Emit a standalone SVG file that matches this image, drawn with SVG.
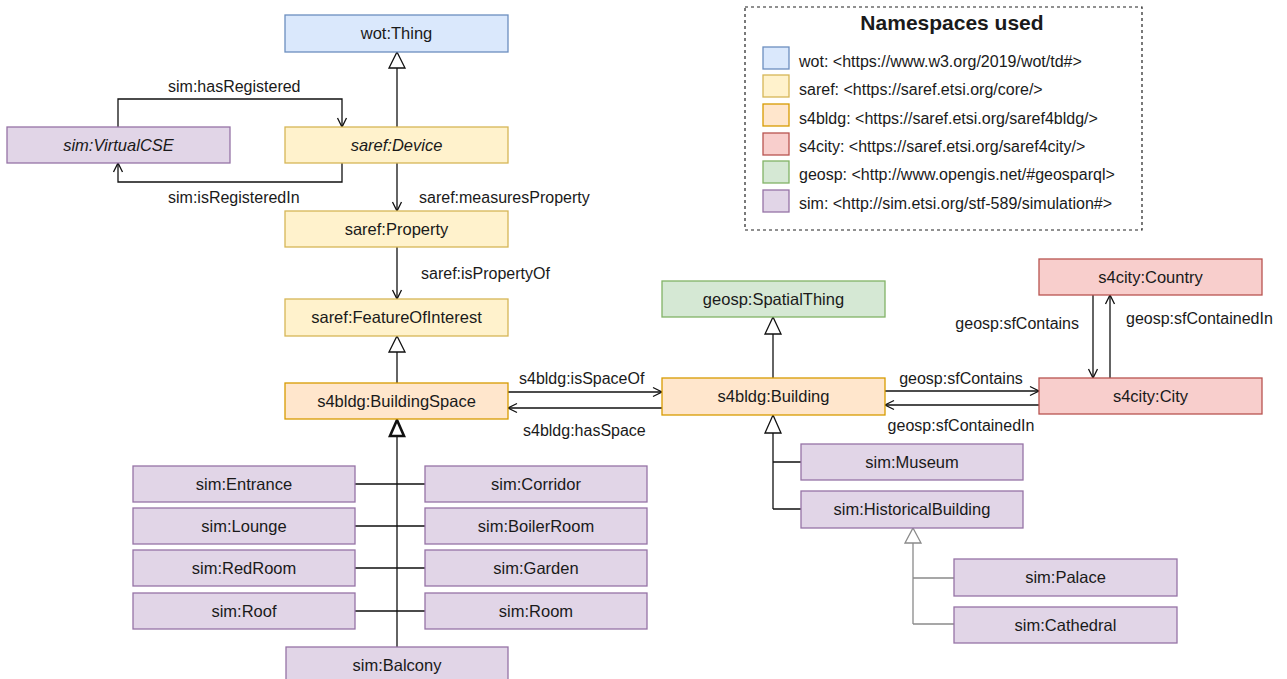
<svg xmlns="http://www.w3.org/2000/svg" width="1287" height="679" viewBox="0 0 1287 679">
<style>
text{font-family:"Liberation Sans",Arial,Helvetica,sans-serif;fill:#1a1a1a}
.lbl{font-size:16.5px;text-anchor:middle}
.it{font-style:italic}
.el{font-size:16px}
.lg{font-size:16px}
.n rect{stroke-width:1.3}
.blue{fill:#dae8fc;stroke:#6c8ebf}
.yel{fill:#fff2cc;stroke:#d6b656}
.org{fill:#ffe6cc;stroke:#d79b00}
.red{fill:#f8cecc;stroke:#b85450}
.grn{fill:#d5e8d4;stroke:#82b366}
.pur{fill:#e1d5e7;stroke:#9673a6}
.c{fill:none;stroke:#111;stroke-width:1.3}
.g{fill:none;stroke:#8a8a8a;stroke-width:1.3}
.tri{fill:#fff;stroke:#111;stroke-width:1.3}
.trib{fill:#fff;stroke:#111;stroke-width:2.6}
.trig{fill:#fff;stroke:#8a8a8a;stroke-width:1.3}
</style>
<defs>
<marker id="open" markerWidth="12" markerHeight="12" refX="10" refY="6" orient="auto" markerUnits="userSpaceOnUse" overflow="visible">
<path d="M1,1.5 L10,6 L1,10.5" fill="none" stroke="#111" stroke-width="1.3"/>
</marker>
</defs>
<rect width="1287" height="679" fill="#fff"/>

<g id="connectors">
<!-- Device -> wot:Thing -->
<path class="c" d="M397,127 V68"/>
<path class="tri" d="M397,52 L405,68 L389,68 Z"/>
<!-- hasRegistered -->
<path class="c" d="M118,127 V99 H342 V127" marker-end="url(#open)"/>
<text class="el" x="168" y="92">sim:hasRegistered</text>
<!-- isRegisteredIn -->
<path class="c" d="M342,163 V182 H118 V163" marker-end="url(#open)"/>
<text class="el" x="168" y="203">sim:isRegisteredIn</text>
<!-- measuresProperty -->
<path class="c" d="M397,163 V211" marker-end="url(#open)"/>
<text class="el" x="419" y="203">saref:measuresProperty</text>
<!-- isPropertyOf -->
<path class="c" d="M397,247 V299" marker-end="url(#open)"/>
<text class="el" x="421" y="279">saref:isPropertyOf</text>
<!-- BuildingSpace -> FOI -->
<path class="c" d="M397,383 V352"/>
<path class="tri" d="M397,336 L405,352 L389,352 Z"/>
<!-- isSpaceOf / hasSpace -->
<path class="c" d="M508,392 H662" marker-end="url(#open)"/>
<text class="el" x="519" y="384">s4bldg:isSpaceOf</text>
<path class="c" d="M662,408 H508" marker-end="url(#open)"/>
<text class="el" x="523" y="436">s4bldg:hasSpace</text>
<!-- Building -> SpatialThing -->
<path class="c" d="M773,378 V334"/>
<path class="tri" d="M773,317 L781,334 L765,334 Z"/>
<!-- Building <-> City -->
<path class="c" d="M885,391 H1039" marker-end="url(#open)"/>
<text class="el" x="961" y="384" text-anchor="middle">geosp:sfContains</text>
<path class="c" d="M1039,405 H885" marker-end="url(#open)"/>
<text class="el" x="961" y="431" text-anchor="middle">geosp:sfContainedIn</text>
<!-- Country <-> City -->
<path class="c" d="M1093,295 V378" marker-end="url(#open)"/>
<text class="el" x="1079" y="329" text-anchor="end">geosp:sfContains</text>
<path class="c" d="M1110,378 V295" marker-end="url(#open)"/>
<text class="el" x="1126" y="324">geosp:sfContainedIn</text>
<!-- Building subclasses -->
<path class="c" d="M773,433 V509 M773,462 H801 M773,509 H801"/>
<path class="tri" d="M773,415 L781,433 L765,433 Z"/>
<!-- HistoricalBuilding subclasses -->
<path class="g" d="M913,543 V624 M913,578 H954 M913,624 H954"/>
<path class="trig" d="M913,528 L921,543 L905,543 Z"/>
<!-- BuildingSpace subclasses -->
<path class="c" d="M397,437 V647 M355,484 H425 M355,526 H425 M355,568 H425 M355,611 H425"/>
<path class="trib" d="M397,420 L404,436 L390,436 Z"/>
</g>

<g id="wotThing" class="n"><rect class="blue" x="285" y="15" width="223" height="37"/><text class="lbl" x="396.5" y="39">wot:Thing</text></g>
<g id="virtualCSE" class="n"><rect class="pur" x="7" y="127" width="223" height="36"/><text class="lbl it" x="118.5" y="151">sim:VirtualCSE</text></g>
<g id="device" class="n"><rect class="yel" x="285" y="127" width="223" height="36"/><text class="lbl it" x="396.5" y="151">saref:Device</text></g>
<g id="property" class="n"><rect class="yel" x="285" y="211" width="223" height="36"/><text class="lbl" x="396.5" y="235">saref:Property</text></g>
<g id="featureOfInterest" class="n"><rect class="yel" x="285" y="299" width="223" height="37"/><text class="lbl" x="396.5" y="323">saref:FeatureOfInterest</text></g>
<g id="buildingSpace" class="n"><rect class="org" x="285" y="383" width="223" height="36"/><text class="lbl" x="396.5" y="407">s4bldg:BuildingSpace</text></g>
<g id="spatialThing" class="n"><rect class="grn" x="662" y="281" width="223" height="36"/><text class="lbl" x="773.5" y="305">geosp:SpatialThing</text></g>
<g id="building" class="n"><rect class="org" x="662" y="378" width="223" height="37"/><text class="lbl" x="773.5" y="402">s4bldg:Building</text></g>
<g id="country" class="n"><rect class="red" x="1039" y="259" width="223" height="36"/><text class="lbl" x="1150.5" y="283">s4city:Country</text></g>
<g id="city" class="n"><rect class="red" x="1039" y="378" width="223" height="36"/><text class="lbl" x="1150.5" y="402">s4city:City</text></g>

<g id="entrance" class="n"><rect class="pur" x="133" y="466" width="222" height="36"/><text class="lbl" x="244" y="490">sim:Entrance</text></g>
<g id="lounge" class="n"><rect class="pur" x="133" y="508" width="222" height="36"/><text class="lbl" x="244" y="532">sim:Lounge</text></g>
<g id="redRoom" class="n"><rect class="pur" x="133" y="550" width="222" height="36"/><text class="lbl" x="244" y="574">sim:RedRoom</text></g>
<g id="roof" class="n"><rect class="pur" x="133" y="593" width="222" height="36"/><text class="lbl" x="244" y="617">sim:Roof</text></g>
<g id="corridor" class="n"><rect class="pur" x="425" y="466" width="222" height="36"/><text class="lbl" x="536" y="490">sim:Corridor</text></g>
<g id="boilerRoom" class="n"><rect class="pur" x="425" y="508" width="222" height="36"/><text class="lbl" x="536" y="532">sim:BoilerRoom</text></g>
<g id="garden" class="n"><rect class="pur" x="425" y="550" width="222" height="36"/><text class="lbl" x="536" y="574">sim:Garden</text></g>
<g id="room" class="n"><rect class="pur" x="425" y="593" width="222" height="36"/><text class="lbl" x="536" y="617">sim:Room</text></g>
<g id="balcony" class="n"><rect class="pur" x="286" y="647" width="222" height="37"/><text class="lbl" x="397" y="671">sim:Balcony</text></g>

<g id="museum" class="n"><rect class="pur" x="801" y="444" width="222" height="36"/><text class="lbl" x="912" y="468">sim:Museum</text></g>
<g id="historicalBuilding" class="n"><rect class="pur" x="801" y="491" width="222" height="37"/><text class="lbl" x="912" y="515">sim:HistoricalBuilding</text></g>
<g id="palace" class="n"><rect class="pur" x="954" y="559" width="223" height="37"/><text class="lbl" x="1065.5" y="583">sim:Palace</text></g>
<g id="cathedral" class="n"><rect class="pur" x="954" y="607" width="223" height="36"/><text class="lbl" x="1065.5" y="631">sim:Cathedral</text></g>

<g id="legend">
<rect x="745" y="7" width="397" height="223" fill="#fff" stroke="#222" stroke-width="1.2" stroke-dasharray="3,3"/>
<text x="952" y="30" text-anchor="middle" style="font-size:21px;font-weight:bold">Namespaces used</text>
<rect class="blue" x="763" y="47" width="26" height="22" stroke-width="1.3"/>
<text class="lg" x="799" y="67">wot: &lt;https://www.w3.org/2019/wot/td#&gt;</text>
<rect class="yel" x="763" y="75" width="26" height="22" stroke-width="1.3"/>
<text class="lg" x="799" y="95">saref: &lt;https://saref.etsi.org/core/&gt;</text>
<rect class="org" x="763" y="104" width="26" height="22" stroke-width="1.3"/>
<text class="lg" x="799" y="124">s4bldg: &lt;https://saref.etsi.org/saref4bldg/&gt;</text>
<rect class="red" x="763" y="133" width="26" height="22" stroke-width="1.3"/>
<text class="lg" x="799" y="152">s4city: &lt;https://saref.etsi.org/saref4city/&gt;</text>
<rect class="grn" x="763" y="161" width="26" height="22" stroke-width="1.3"/>
<text class="lg" x="799" y="180">geosp: &lt;http://www.opengis.net/#geosparql&gt;</text>
<rect class="pur" x="763" y="190" width="26" height="22" stroke-width="1.3"/>
<text class="lg" x="799" y="209">sim: &lt;http://sim.etsi.org/stf-589/simulation#&gt;</text>
</g>
</svg>
